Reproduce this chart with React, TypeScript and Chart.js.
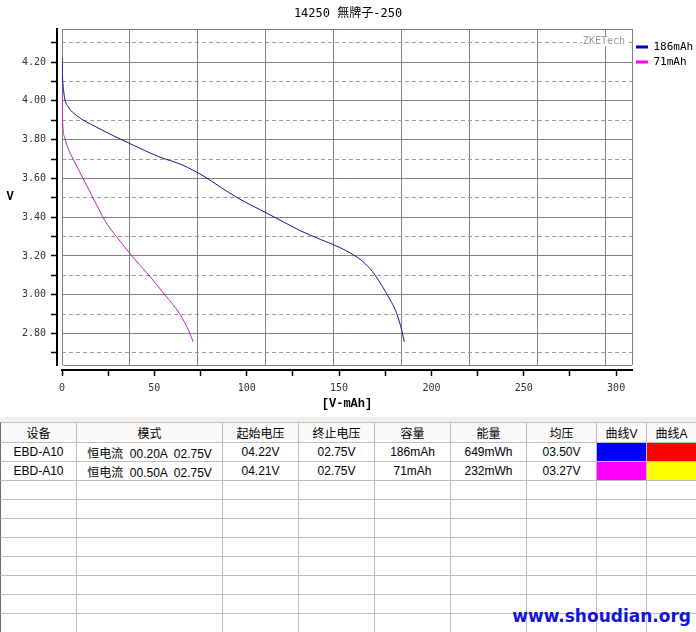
import React, { useEffect, useRef } from 'react';
import { Chart, registerables } from 'chart.js';

Chart.register(...registerables);

// ---------- data ----------
const titleText = '14250 無牌子-250';
const seriesLabels = ['186mAh', '71mAh'];
const xAxisTitle = '[V-mAh]';
const yAxisTitle = 'V';
const watermarkText = 'ZKETech';
const siteText = 'www.shoudian.org';

const blueCapacity = [0, 0.3, 0.8, 1.5, 3.3, 7.8, 18.6, 36.7, 53, 65, 77, 85, 95, 111, 120, 129, 140, 150, 157, 163, 168, 171.3, 175.7, 181.2, 183.9, 185.3];
const blueVoltage = [4.22, 4.12, 4.06, 4.01, 3.97, 3.925, 3.865, 3.78, 3.71, 3.67, 3.61, 3.56, 3.5, 3.42, 3.375, 3.33, 3.285, 3.245, 3.21, 3.17, 3.12, 3.075, 3.006, 2.903, 2.817, 2.757];
const pinkCapacity = [0, 0.1, 0.2, 0.4, 1.5, 3.5, 6, 11.4, 16.8, 20, 24, 29.5, 37.8, 45.7, 51, 55.6, 60, 63.8, 66.5, 68.8, 71];
const pinkVoltage = [4.21, 4.05, 3.95, 3.88, 3.81, 3.75, 3.7, 3.6, 3.5, 3.44, 3.37, 3.3, 3.2, 3.115, 3.055, 3.0, 2.95, 2.9, 2.855, 2.81, 2.757];

const Y_MIN = 2.637;
const Y_MAX = 4.369;
const X_MIN = 0;
const X_MAX = 308.6;
const yTickValues = [2.7, 2.8, 2.9, 3.0, 3.1, 3.2, 3.3, 3.4, 3.5, 3.6, 3.7, 3.8, 3.9, 4.0, 4.1, 4.2, 4.3];
const yLabelValues = [2.8, 3.0, 3.2, 3.4, 3.6, 3.8, 4.0, 4.2];
const yDashedValues = [2.7, 2.9, 3.1, 3.3, 3.5, 3.7, 3.9, 4.1, 4.3];
const xTickValues = [0, 25, 50, 75, 100, 125, 150, 175, 200, 225, 250, 275, 300];
const xLabelValues = [0, 50, 100, 150, 200, 250, 300];
const xGridValues = [36.8, 73.6, 110.3, 147.1, 183.9, 220.6, 257.4, 294.2];

const tableHeaders = ['设备', '模式', '起始电压', '终止电压', '容量', '能量', '均压', '曲线V', '曲线A'];
const tableRows = [
  ['EBD-A10', '恒电流  00.20A  02.75V', '04.22V', '02.75V', '186mAh', '649mWh', '03.50V'],
  ['EBD-A10', '恒电流  00.50A  02.75V', '04.21V', '02.75V', '71mAh', '232mWh', '03.27V'],
];
const curveVColors = ['#0000ff', '#ff00ff'];
const curveAColors = ['#ff0000', '#ffff00'];
const lineColors = ['#16168e', '#c020c0'];
const legendColors = ['#0000d0', '#ff00ff'];

// ---------- styling ----------
const MONO = '"DejaVu Sans Mono", "Noto Sans CJK SC", monospace';
const TABLE_FONT = '"Liberation Sans", "Noto Sans CJK SC", sans-serif';
const isIn = (arr: number[], v: number) => arr.some((a) => Math.abs(a - v) < 1e-6);
const TRANSPARENT = 'rgba(0,0,0,0)';

const overlayPlugin = {
  id: 'overlayText',
  afterDraw(chart: any) {
    const { ctx, chartArea } = chart;
    ctx.save();
    ctx.font = 'bold 12px "Liberation Mono", monospace';
    ctx.fillStyle = '#000';
    ctx.textAlign = 'center';
    ctx.textBaseline = 'middle';
    ctx.fillText(yAxisTitle, 10, (chartArea.top + chartArea.bottom) / 2);

    ctx.font = '10px ' + MONO;
    ctx.textAlign = 'right';
    const w = ctx.measureText(watermarkText).width;
    const tx = chartArea.right - 7;
    const ty = chartArea.top + 12;
    ctx.fillStyle = '#fff';
    ctx.fillRect(tx - w - 1, ty - 5, w + 2, 10);
    ctx.fillStyle = '#9a9a9a';
    ctx.fillText(watermarkText, tx, ty);
    ctx.restore();
  },
};

export default function App() {
  const ref = useRef<HTMLCanvasElement>(null);

  useEffect(() => {
    if (!ref.current) return;
    const chart = new Chart(ref.current, {
      type: 'line',
      data: {
        datasets: [
          {
            label: seriesLabels[0],
            data: blueCapacity.map((x, i) => ({ x, y: blueVoltage[i] })),
            borderColor: lineColors[0],
            backgroundColor: lineColors[0],
            borderWidth: 1,
            pointRadius: 0,
            cubicInterpolationMode: 'monotone',
            xAxisID: 'x',
            yAxisID: 'y',
          },
          {
            label: seriesLabels[1],
            data: pinkCapacity.map((x, i) => ({ x, y: pinkVoltage[i] })),
            borderColor: lineColors[1],
            backgroundColor: lineColors[1],
            borderWidth: 1,
            pointRadius: 0,
            cubicInterpolationMode: 'monotone',
            xAxisID: 'x',
            yAxisID: 'y',
          },
        ],
      },
      options: {
        animation: false,
        responsive: false,
        devicePixelRatio: 1,
        layout: { padding: 0 },
        plugins: {
          title: {
            display: true,
            text: titleText,
            color: '#000',
            font: { family: MONO, size: 12, weight: 'normal' },
            padding: { top: 7, bottom: 8 },
          },
          legend: {
            position: 'right',
            align: 'start',
            fullSize: false,
            maxWidth: 64,
            title: { display: true, text: ' ', font: { size: 1 }, padding: { top: 7, bottom: 0 } },
            labels: {
              boxWidth: 12,
              boxHeight: 3,
              padding: 4,
              color: '#000',
              font: { family: MONO, size: 11 },
              generateLabels: (c: any) =>
                Chart.defaults.plugins.legend.labels.generateLabels(c).map((l: any, i: number) => ({
                  ...l,
                  fillStyle: legendColors[i],
                  strokeStyle: legendColors[i],
                  lineWidth: 0,
                })),
            },
          },
          tooltip: { enabled: false },
        },
        scales: {
          x: {
            type: 'linear',
            position: 'bottom',
            weight: 2,
            min: X_MIN,
            max: X_MAX,
            afterBuildTicks: (s: any) => {
              s.ticks = xTickValues.map((value) => ({ value }));
            },
            afterFit: (s: any) => {
              s.height = 47;
            },
            ticks: {
              autoSkip: false,
              maxRotation: 0,
              padding: 6,
              color: '#333',
              font: { family: MONO, size: 10 },
              callback: (v: any) => (isIn(xLabelValues, Number(v)) ? String(v) : ''),
            },
            grid: { drawOnChartArea: false, drawTicks: true, tickLength: 6, tickColor: '#000', tickWidth: 1.5 },
            border: { display: true, color: '#000', width: 2 },
            title: {
              display: true,
              text: xAxisTitle,
              color: '#000',
              font: { family: '"Liberation Mono", monospace', size: 12, weight: 'bold' },
              padding: { top: 0, bottom: 6 },
            },
          },
          xGap: {
            type: 'linear',
            position: 'bottom',
            weight: 1,
            ticks: { display: false },
            grid: { display: false, drawTicks: false },
            border: { display: false },
            afterFit: (s: any) => {
              s.height = 5;
            },
          },
          xg: {
            type: 'linear',
            position: 'top',
            min: X_MIN,
            max: X_MAX,
            afterBuildTicks: (s: any) => {
              s.ticks = [X_MIN, ...xGridValues, X_MAX].map((value) => ({ value }));
            },
            ticks: { display: false },
            grid: { color: '#808080', lineWidth: 1, drawTicks: false },
            border: { display: false },
            afterFit: (s: any) => {
              s.height = 0;
            },
          },
          y: {
            type: 'linear',
            position: 'left',
            weight: 2,
            min: Y_MIN,
            max: Y_MAX,
            afterBuildTicks: (s: any) => {
              s.ticks = [Y_MIN, ...yTickValues, Y_MAX].map((value) => ({ value }));
            },
            afterFit: (s: any) => {
              s.width = 57;
            },
            ticks: {
              autoSkip: false,
              padding: 5,
              color: '#333',
              font: { family: MONO, size: 10 },
              callback: (v: any) => (isIn(yLabelValues, Number(v)) ? Number(v).toFixed(2) : ''),
            },
            grid: {
              lineWidth: 1,
              color: (c: any) => {
                const v = c.tick ? c.tick.value : 0;
                if (Math.abs(v - Y_MIN) < 1e-6 || Math.abs(v - Y_MAX) < 1e-6) return '#808080';
                return isIn(yLabelValues, v) ? '#808080' : TRANSPARENT;
              },
              tickColor: (c: any) => {
                const v = c.tick ? c.tick.value : 0;
                if (Math.abs(v - Y_MIN) < 1e-6 || Math.abs(v - Y_MAX) < 1e-6) return TRANSPARENT;
                return '#000';
              },
              tickLength: 6,
              tickWidth: 1.5,
            },
            border: { display: true, color: '#000', width: 2 },
          },
          yGap: {
            type: 'linear',
            position: 'left',
            weight: 1,
            ticks: { display: false },
            grid: { display: false, drawTicks: false },
            border: { display: false },
            afterFit: (s: any) => {
              s.width = 5;
            },
          },
          yd: {
            type: 'linear',
            position: 'left',
            weight: 0,
            min: Y_MIN,
            max: Y_MAX,
            afterBuildTicks: (s: any) => {
              s.ticks = yDashedValues.map((value) => ({ value }));
            },
            ticks: { display: false },
            grid: { color: '#9a9a9a', lineWidth: 1, drawTicks: false },
            border: { display: false, dash: [4, 3] },
            afterFit: (s: any) => {
              s.width = 0;
            },
          },
        },
      } as any,
      plugins: [overlayPlugin],
    });
    return () => chart.destroy();
  }, []);

  const colX = [0, 77, 223, 299, 375, 451, 527, 597, 647, 697];
  const cells: React.ReactNode[] = [];
  const totalRows = 12;
  for (let r = 0; r < totalRows; r++) {
    const top = r === 0 ? 422 : 443 + (r - 1) * 19;
    const height = r === 0 ? 21 : 19;
    for (let c = 0; c < colX.length - 1; c++) {
      let content: React.ReactNode = null;
      let fill: string | null = null;
      if (r === 0) content = tableHeaders[c];
      else if (r - 1 < tableRows.length) {
        const row = tableRows[r - 1];
        if (c < row.length) content = row[c];
        else if (c === 7) fill = curveVColors[r - 1];
        else if (c === 8) fill = curveAColors[r - 1];
      }
      cells.push(
        <div
          key={r + '-' + c}
          style={{
            position: 'absolute',
            left: colX[c],
            top,
            width: colX[c + 1] - colX[c],
            height,
            boxSizing: 'border-box',
            borderRight: '1px solid #bdbdbd',
            borderBottom: '1px solid #bdbdbd',
            borderTop: r === 0 ? '1px solid #bdbdbd' : 'none',
            borderLeft: c === 0 ? '1px solid #6a6a6a' : 'none',
            background: fill ? fill : r === 0 ? '#fafafa' : '#fff',
            display: 'flex',
            alignItems: 'center',
            justifyContent: 'center',
            whiteSpace: 'pre',
            fontFamily: TABLE_FONT,
            fontSize: 12,
            color: '#000',
            overflow: 'hidden',
          }}
        >
          {content}
        </div>
      );
    }
  }

  return (
    <div
      style={{
        position: 'fixed',
        left: 0,
        top: 0,
        width: 696,
        height: 632,
        overflow: 'hidden',
        background: '#fff',
      }}
    >
      <canvas ref={ref} width={696} height={417} style={{ display: 'block', width: 696, height: 417 }} />
      <div style={{ position: 'absolute', left: 0, top: 417, width: 696, height: 6, background: '#f0f0f0' }} />
      {cells}
      <div
        style={{
          position: 'absolute',
          right: 5,
          top: 608,
          fontFamily: '"DejaVu Sans", sans-serif',
          fontWeight: 'bold',
          fontSize: 17,
          lineHeight: '17px',
          color: '#1414d8',
          whiteSpace: 'nowrap',
        }}
      >
        {siteText}
      </div>
    </div>
  );
}
